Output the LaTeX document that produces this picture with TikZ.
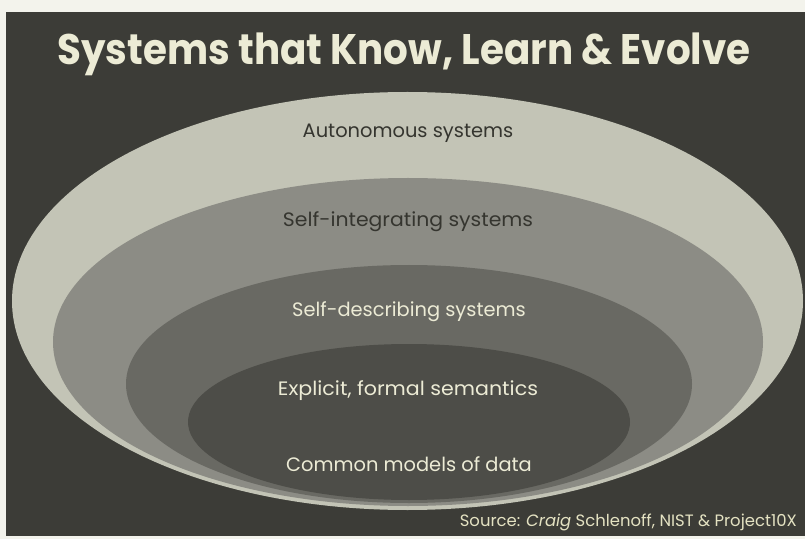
\documentclass[tikz,border=0pt]{standalone}
\usepackage{fontspec}
\setmainfont{Poppins}
\definecolor{paper}{HTML}{F3F3EC}
\definecolor{slate}{HTML}{3C3C37}
\definecolor{ringA}{HTML}{C3C4B6}
\definecolor{ringB}{HTML}{8C8C85}
\definecolor{ringC}{HTML}{696963}
\definecolor{ringD}{HTML}{4D4D48}
\definecolor{inkdark}{HTML}{35352F}
\definecolor{inklight}{HTML}{ECEBD5}
\definecolor{inksource}{HTML}{E4E2C2}
\begin{document}
\begin{tikzpicture}[x=1bp,y=-1bp,
  titletext/.style={text=inklight, font=\fontsize{39}{44}\selectfont\bfseries, inner sep=0pt},
  ringlabel/.style={font=\fontsize{19.5}{22}\selectfont, inner sep=0pt},
  darklabel/.style={ringlabel, text=inkdark},
  lightlabel/.style={ringlabel, text=inklight},
  sourcetext/.style={text=inksource, font=\fontsize{16.5}{19}\selectfont, inner sep=0pt, anchor=east}]
  % sheet and dark slide panel
  \fill[paper] (0,0) rectangle (805,539);
  \useasboundingbox (0,0) rectangle (805,539);
  \fill[slate] (6,12) rectangle (805,536);
  % nested layers, all touching near the bottom
  \fill[ringA] (407.5,301) ellipse [x radius=395.5, y radius=209];
  \fill[ringB] (408,342) ellipse [x radius=355, y radius=164];
  \fill[ringC] (409,384) ellipse [x radius=283, y radius=119];
  \fill[ringD] (409,422) ellipse [x radius=221, y radius=78];
  % heading
  \node[titletext] (title) at (404,54) {\scalebox{1}[1.1]{Systems that Know, Learn \& Evolve}};
  % layer labels
  \node[darklabel]  (auto)     at (408,133) {Autonomous systems};
  \node[darklabel]  (integr)   at (408,222) {\scalebox{1.05}[1]{Self-integrating systems}};
  \node[lightlabel] (describe) at (409,312) {Self-describing systems};
  \node[lightlabel] (semantic) at (408,391) {\scalebox{1.06}[1]{Explicit, formal semantics}};
  \node[lightlabel] (models)   at (409,464) {Common models of data};
  % credit line
  \node[sourcetext] (source) at (797,522) {Source: \textit{Craig} Schlenoff, NIST \& Project10X};
\end{tikzpicture}
\end{document}
